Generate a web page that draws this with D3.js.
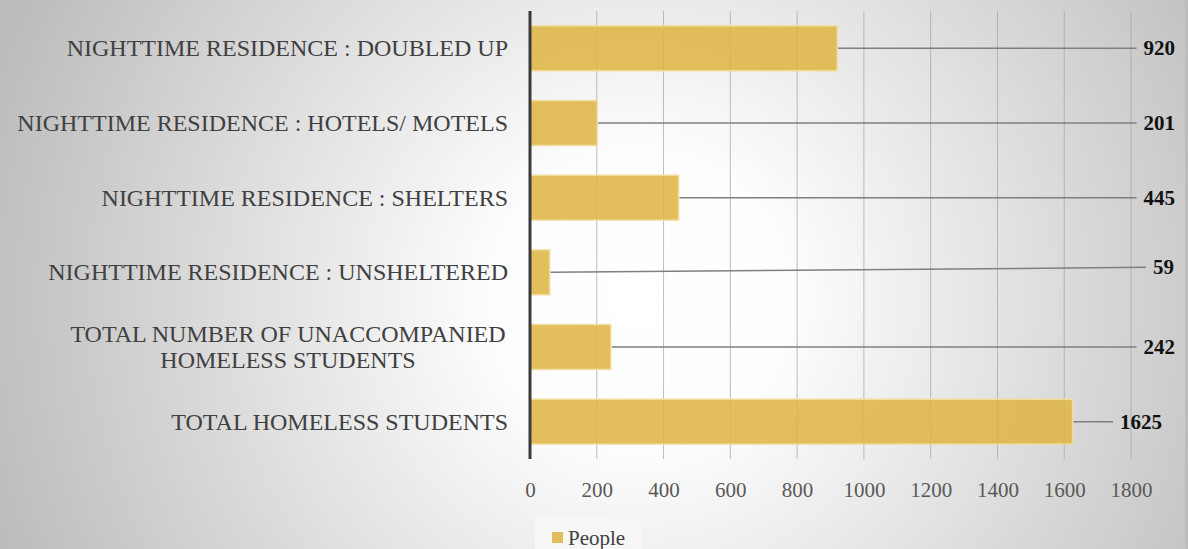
<!DOCTYPE html>
<html>
<head>
<meta charset="utf-8">
<script src="https://cdn.jsdelivr.net/npm/d3@7"></script>
<style>
html,body{margin:0;padding:0;overflow:hidden;}
svg{display:block;}
</style>
</head>
<body>
<svg id="chart" width="1188" height="549"></svg>
<script>
const categories = [
  ["NIGHTTIME RESIDENCE : DOUBLED UP"],
  ["NIGHTTIME RESIDENCE : HOTELS/ MOTELS"],
  ["NIGHTTIME RESIDENCE : SHELTERS"],
  ["NIGHTTIME RESIDENCE : UNSHELTERED"],
  ["TOTAL NUMBER OF UNACCOMPANIED", "HOMELESS STUDENTS"],
  ["TOTAL HOMELESS STUDENTS"]
];
const people = [920, 201, 445, 59, 242, 1625];
const tickValues = [0, 200, 400, 600, 800, 1000, 1200, 1400, 1600, 1800];
const seriesName = "People";

(function () {
const W = 1188, H = 549;
const FONT = "'Liberation Serif', 'DejaVu Serif', serif";
const svg = d3.select("#chart");
const defs = svg.append("defs");
const rg = defs.append("radialGradient").attr("id", "bg")
  .attr("gradientUnits", "userSpaceOnUse")
  .attr("cx", 640).attr("cy", 300).attr("r", 680);
rg.append("stop").attr("offset", "0").attr("stop-color", "#ffffff");
rg.append("stop").attr("offset", "0.22").attr("stop-color", "#fdfdfd");
rg.append("stop").attr("offset", "1").attr("stop-color", "#bcbcbc");
svg.append("rect").attr("width", W).attr("height", H).attr("fill", "url(#bg)");
svg.append("rect").attr("x", 1185).attr("width", 3).attr("height", H).attr("fill", "#bdbdbd");

const pL = 530, pR = 1131, pT = 11, pB = 459;
const x = d3.scaleLinear().domain([0, 1800]).range([pL, pR]);
const keys = categories.map(c => c.join(" "));
const y = d3.scaleBand().domain(keys).range([pT, pB]).paddingInner(0.4).paddingOuter(0.2);

// gridlines
svg.append("g").selectAll("line").data(tickValues.slice(1)).join("line")
  .attr("x1", d => x(d)).attr("x2", d => x(d))
  .attr("y1", pT).attr("y2", pB)
  .attr("stroke", "#a6a6a6").attr("stroke-opacity", 0.75).attr("stroke-width", 1);

// bars
svg.append("g").selectAll("rect").data(people).join("rect")
  .attr("x", x(0))
  .attr("y", (d, i) => y(keys[i]))
  .attr("width", d => x(d) - x(0))
  .attr("height", y.bandwidth())
  .attr("fill", "#deb645").attr("fill-opacity", 0.88)
  .attr("stroke", "#f1dc98").attr("stroke-width", 1.5);

// axis line
svg.append("line").attr("x1", pL).attr("x2", pL).attr("y1", pT).attr("y2", pB)
  .attr("stroke", "#3a3a3a").attr("stroke-width", 3);

// x tick labels
const xAxis = d3.axisBottom(x).tickValues(tickValues).tickSize(0).tickPadding(0).tickFormat(d3.format("d"));
const ax = svg.append("g").attr("transform", `translate(0,${pB + 38})`).call(xAxis);
ax.select(".domain").remove();
ax.selectAll("text").attr("font-family", FONT).attr("font-size", 21)
  .attr("fill", "#595959").attr("dy", 0);

// category labels
const lab = svg.append("g");
categories.forEach((lines, i) => {
  const cy = y(keys[i]) + y.bandwidth() / 2;
  const t = lab.append("text").attr("text-anchor", lines.length > 1 ? "middle" : "end")
    .attr("font-family", FONT).attr("font-size", 24).attr("fill", "#404040");
  const ax0 = lines.length > 1 ? 288 : 508;
  lines.forEach((ln, j) => {
    t.append("tspan").attr("x", ax0)
      .attr("y", cy + 8 + (j - (lines.length - 1) / 2) * 26)
      .text(ln);
  });
});

// leader lines and value labels
const labelRight = [1175, 1175, 1175, 1174, 1175, 1162];
const labelDy = [0, 0, 0, -5, 0, 0];
const vl = svg.append("g");
people.forEach((v, i) => {
  const cy = y(keys[i]) + y.bandwidth() / 2;
  const t = vl.append("text").attr("x", labelRight[i]).attr("y", cy + labelDy[i] + 7)
    .attr("text-anchor", "end").attr("font-family", FONT)
    .attr("font-weight", "bold").attr("font-size", 21).attr("fill", "#111").text(v);
  const w = t.node().getComputedTextLength();
  vl.append("line").attr("x1", x(v) + 1).attr("y1", cy)
    .attr("x2", labelRight[i] - w - 7).attr("y2", cy + labelDy[i])
    .attr("stroke", "#7f7f7f").attr("stroke-width", 1.5);
});

// legend
const lg = svg.append("g");
lg.append("rect").attr("x", 535).attr("y", 517).attr("width", 106).attr("height", 32)
  .attr("fill", "#f8f8f8").attr("fill-opacity", 0.8);
lg.append("rect").attr("x", 552).attr("y", 532).attr("width", 11).attr("height", 11)
  .attr("fill", "#deb645").attr("fill-opacity", 0.88);
lg.append("text").attr("x", 568).attr("y", 545).attr("font-family", FONT)
  .attr("font-size", 21).attr("fill", "#404040").text(seriesName);
})();
</script>
</body>
</html>
